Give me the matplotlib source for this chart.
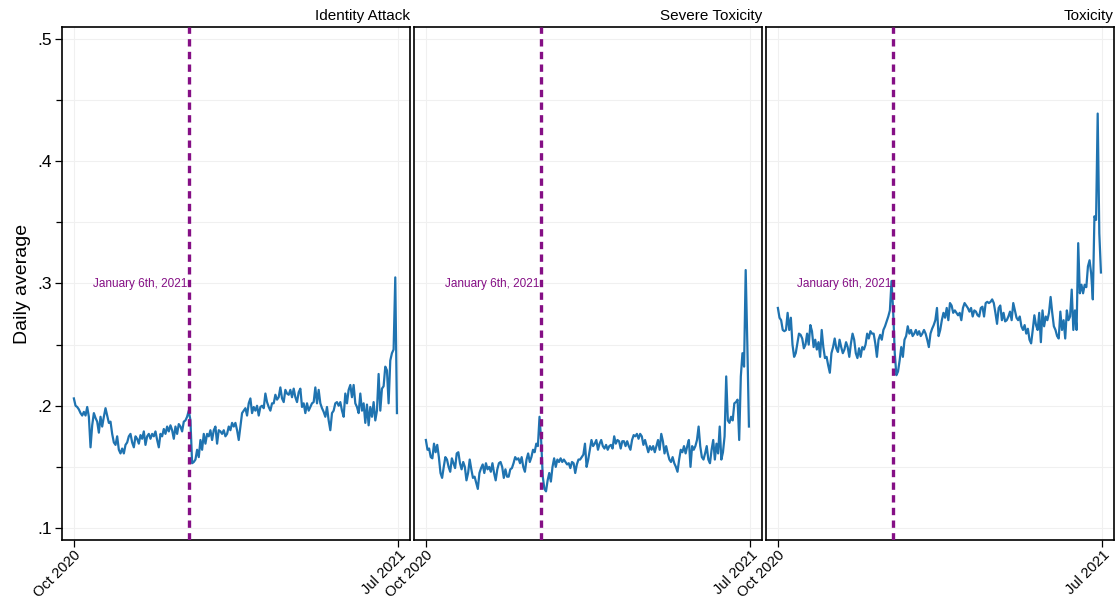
import numpy as np
import pandas as pd
import matplotlib
matplotlib.use("Agg")
import matplotlib.pyplot as plt
import matplotlib.dates as mdates
from matplotlib.ticker import MultipleLocator, FuncFormatter

plt.rcParams['font.family'] = ['Liberation Sans', 'DejaVu Sans']

# daily averages, Oct 1 2020 - Jun 30 2021 (evenly spaced samples)
identity_attack = [
    0.206, 0.200, 0.199, 0.197, 0.194, 0.192, 0.195, 0.192, 0.199, 0.191,
    0.166, 0.184, 0.194, 0.190, 0.187, 0.178, 0.191, 0.183, 0.191, 0.198,
    0.192, 0.186, 0.187, 0.177, 0.170, 0.168, 0.175, 0.164, 0.161, 0.165,
    0.161, 0.168, 0.170, 0.175, 0.177, 0.170, 0.166, 0.175, 0.173, 0.169,
    0.176, 0.173, 0.179, 0.168, 0.175, 0.177, 0.173, 0.177, 0.175, 0.179,
    0.172, 0.166, 0.177, 0.175, 0.181, 0.177, 0.183, 0.179, 0.184, 0.180,
    0.173, 0.183, 0.177, 0.185, 0.183, 0.179, 0.187, 0.188, 0.191, 0.196,
    0.188, 0.153, 0.154, 0.156, 0.164, 0.158, 0.172, 0.164, 0.177, 0.169,
    0.177, 0.175, 0.180, 0.172, 0.180, 0.183, 0.169, 0.180, 0.179, 0.177,
    0.180, 0.175, 0.177, 0.183, 0.180, 0.186, 0.183, 0.186, 0.180, 0.172,
    0.183, 0.194, 0.196, 0.198, 0.192, 0.202, 0.206, 0.194, 0.199, 0.196,
    0.200, 0.192, 0.199, 0.200, 0.198, 0.210, 0.203, 0.199, 0.196, 0.202,
    0.202, 0.209, 0.205, 0.207, 0.215, 0.206, 0.203, 0.213, 0.210, 0.209,
    0.213, 0.207, 0.214, 0.207, 0.203, 0.211, 0.214, 0.199, 0.202, 0.194,
    0.202, 0.196, 0.199, 0.202, 0.203, 0.215, 0.202, 0.213, 0.202, 0.198,
    0.195, 0.191, 0.199, 0.188, 0.180, 0.194, 0.196, 0.202, 0.203, 0.200,
    0.203, 0.196, 0.191, 0.210, 0.202, 0.213, 0.217, 0.207, 0.217, 0.202,
    0.199, 0.194, 0.210, 0.196, 0.202, 0.186, 0.201, 0.184, 0.199, 0.191,
    0.203, 0.188, 0.196, 0.226, 0.196, 0.214, 0.216, 0.232, 0.229, 0.202,
    0.237, 0.243, 0.246, 0.305, 0.194,
]

severe_toxicity = [
    0.172, 0.164, 0.165, 0.158, 0.157, 0.169, 0.162, 0.168, 0.158, 0.145,
    0.141, 0.150, 0.158, 0.156, 0.150, 0.146, 0.157, 0.153, 0.149, 0.161,
    0.162, 0.153, 0.148, 0.154, 0.150, 0.139, 0.145, 0.156, 0.148, 0.141,
    0.142, 0.137, 0.132, 0.145, 0.149, 0.152, 0.145, 0.153, 0.148, 0.150,
    0.146, 0.153, 0.145, 0.139, 0.148, 0.153, 0.154, 0.150, 0.141, 0.148,
    0.142, 0.142, 0.148, 0.149, 0.153, 0.158, 0.156, 0.157, 0.153, 0.158,
    0.150, 0.146, 0.156, 0.161, 0.154, 0.158, 0.164, 0.162, 0.169, 0.167,
    0.191, 0.172, 0.142, 0.132, 0.130, 0.139, 0.145, 0.138, 0.150, 0.157,
    0.150, 0.156, 0.154, 0.157, 0.154, 0.156, 0.154, 0.152, 0.153, 0.149,
    0.154, 0.153, 0.145, 0.152, 0.156, 0.156, 0.158, 0.160, 0.169, 0.150,
    0.156, 0.164, 0.172, 0.167, 0.169, 0.172, 0.164, 0.169, 0.172, 0.167,
    0.165, 0.168, 0.164, 0.167, 0.168, 0.165, 0.175, 0.169, 0.172, 0.171,
    0.165, 0.171, 0.171, 0.167, 0.171, 0.167, 0.164, 0.172, 0.176, 0.175,
    0.177, 0.173, 0.177, 0.175, 0.168, 0.172, 0.167, 0.162, 0.167, 0.164,
    0.167, 0.162, 0.167, 0.172, 0.164, 0.177, 0.171, 0.161, 0.167, 0.161,
    0.156, 0.154, 0.158, 0.153, 0.150, 0.146, 0.156, 0.164, 0.162, 0.167,
    0.161, 0.167, 0.172, 0.150, 0.167, 0.164, 0.167, 0.172, 0.183, 0.167,
    0.158, 0.156, 0.161, 0.167, 0.156, 0.153, 0.164, 0.172, 0.156, 0.169,
    0.161, 0.183, 0.156, 0.162, 0.175, 0.224, 0.188, 0.186, 0.191, 0.188,
    0.202, 0.203, 0.205, 0.172, 0.224, 0.243, 0.232, 0.311, 0.251, 0.183,
]

toxicity = [
    0.280, 0.272, 0.270, 0.262, 0.261, 0.262, 0.276, 0.262, 0.272, 0.250,
    0.240, 0.243, 0.251, 0.259, 0.258, 0.255, 0.247, 0.250, 0.259, 0.250,
    0.266, 0.261, 0.248, 0.254, 0.246, 0.252, 0.240, 0.262, 0.248, 0.239,
    0.240, 0.233, 0.227, 0.243, 0.248, 0.255, 0.247, 0.244, 0.254, 0.248,
    0.243, 0.246, 0.252, 0.248, 0.240, 0.251, 0.259, 0.254, 0.243, 0.239,
    0.247, 0.240, 0.248, 0.246, 0.250, 0.259, 0.255, 0.261, 0.259, 0.259,
    0.251, 0.240, 0.254, 0.258, 0.254, 0.262, 0.265, 0.269, 0.273, 0.278,
    0.302, 0.278, 0.243, 0.225, 0.228, 0.237, 0.248, 0.240, 0.254, 0.257,
    0.265, 0.259, 0.262, 0.257, 0.259, 0.262, 0.258, 0.261, 0.257, 0.259,
    0.262, 0.259, 0.254, 0.248, 0.259, 0.263, 0.266, 0.270, 0.280, 0.257,
    0.262, 0.270, 0.276, 0.272, 0.280, 0.270, 0.284, 0.282, 0.276, 0.278,
    0.276, 0.274, 0.276, 0.270, 0.280, 0.284, 0.282, 0.280, 0.277, 0.280,
    0.273, 0.278, 0.277, 0.274, 0.273, 0.280, 0.281, 0.273, 0.284, 0.285,
    0.284, 0.285, 0.287, 0.284, 0.276, 0.267, 0.280, 0.282, 0.270, 0.276,
    0.269, 0.270, 0.273, 0.277, 0.270, 0.284, 0.278, 0.272, 0.270, 0.273,
    0.265, 0.262, 0.266, 0.259, 0.263, 0.254, 0.251, 0.262, 0.274, 0.266,
    0.262, 0.276, 0.252, 0.278, 0.265, 0.273, 0.270, 0.276, 0.289, 0.276,
    0.265, 0.262, 0.257, 0.255, 0.277, 0.262, 0.270, 0.255, 0.278, 0.270,
    0.273, 0.295, 0.262, 0.278, 0.262, 0.333, 0.292, 0.299, 0.292, 0.299,
    0.297, 0.314, 0.319, 0.308, 0.287, 0.355, 0.352, 0.439, 0.341, 0.309,
]

panel_titles = ["Identity Attack", "Severe Toxicity", "Toxicity"]
series = [identity_attack, severe_toxicity, toxicity]
event_date = pd.Timestamp("2021-01-06")
event_label = "January 6th, 2021"
x_ticks = [pd.Timestamp("2020-10-01"), pd.Timestamp("2021-07-01")]
x_ticklabels = ["Oct 2020", "Jul 2021"]

line_color = "#1f73b0"
event_color = "#850f85"

fig = plt.figure(figsize=(11.17, 6.0), dpi=100)
lefts = [62 / 1117, 414 / 1117, 766 / 1117]
width = 348 / 1117
bottom = 60 / 600
height = 513 / 600

pad = pd.Timedelta(days=10)

for i, (title, vals) in enumerate(zip(panel_titles, series)):
    ax = fig.add_axes([lefts[i], bottom, width, height])
    dates = pd.date_range("2020-10-01", "2021-06-30", periods=len(vals))
    ax.plot(dates, vals, color=line_color, lw=1.6, zorder=3)

    ax.axvline(event_date, color=event_color, lw=2.4, ls=(0, (2.2, 1.6)), zorder=4)
    ax.text(event_date - pd.Timedelta(days=1.5), 0.3, event_label, color=event_color,
            fontsize=8.5, ha="right", va="center", zorder=5)

    ax.set_xlim(x_ticks[0] - pad, x_ticks[1] + pad)
    ax.set_ylim(0.0902, 0.5098)
    ax.set_xticks(x_ticks)
    ax.set_xticklabels(x_ticklabels, rotation=45, ha="right", rotation_mode="anchor",
                       fontsize=10.5)
    ax.yaxis.set_major_locator(MultipleLocator(0.1))
    ax.yaxis.set_minor_locator(MultipleLocator(0.05))
    ax.yaxis.set_major_formatter(FuncFormatter(lambda v, p: ("%.1f" % v).lstrip("0")))

    ax.grid(True, which="both", axis="y", color="#f0f0f0", lw=0.8, zorder=0)
    ax.grid(True, which="major", axis="x", color="#f0f0f0", lw=0.8, zorder=0)
    ax.tick_params(axis="x", length=5, width=0.9, pad=1)
    ax.tick_params(axis="y", which="major", length=5, width=0.9, labelsize=12.5, pad=2)
    ax.tick_params(axis="y", which="minor", length=4, width=0.9)

    if i > 0:
        ax.tick_params(axis="y", which="both", left=False, labelleft=False)
    else:
        ax.set_ylabel("Daily average", fontsize=14, labelpad=5)

    for s in ax.spines.values():
        s.set_linewidth(1.2)
        s.set_color("black")

    ax.set_title(title, loc="right", fontsize=11, pad=5)

fig.savefig("out.png", dpi=100)
